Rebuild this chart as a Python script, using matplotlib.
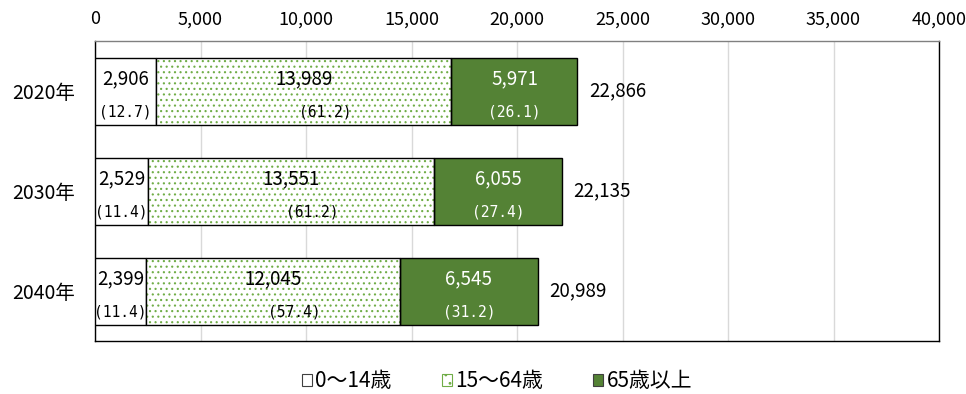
import matplotlib
matplotlib.use('Agg')
import matplotlib.pyplot as plt
from matplotlib.patches import Patch
from matplotlib.ticker import FuncFormatter, MultipleLocator

plt.rcParams['font.family'] = ['Noto Sans CJK JP', 'DejaVu Sans']
plt.rcParams['hatch.linewidth'] = 0.8

# population by age group (thousand people)
years = ['2020年', '2030年', '2040年']
age_0_14 = [2906, 2529, 2399]
age_15_64 = [13989, 13551, 12045]
age_65_over = [5971, 6055, 6545]
pct_0_14 = [12.7, 11.4, 11.4]
pct_15_64 = [61.2, 61.2, 57.4]
pct_65_over = [26.1, 27.4, 31.2]
totals = [22866, 22135, 20989]
legend_labels = ['0～14歳', '15～64歳', '65歳以上']

DOT_GREEN = '#70AD47'
DARK_GREEN = '#548235'
BAR_H = 0.67
FS = 13.5

fig = plt.figure(figsize=(9.66, 3.94), dpi=100)
ax = fig.add_axes([95 / 966, 1 - 341 / 394, 844 / 966, 300 / 394])

y = list(range(len(years)))
left_mid = age_0_14
left_old = [a + b for a, b in zip(age_0_14, age_15_64)]

ax.barh(y, age_0_14, height=BAR_H, color='white', edgecolor='black', lw=1, zorder=3)
# dotted fill, then a black outline on top
ax.barh(y, age_15_64, left=left_mid, height=BAR_H, color='white',
        edgecolor=DOT_GREEN, hatch='...', lw=0, zorder=3)
ax.barh(y, age_15_64, left=left_mid, height=BAR_H, fill=False,
        edgecolor='black', lw=1, zorder=4)
ax.barh(y, age_65_over, left=left_old, height=BAR_H, color=DARK_GREEN,
        edgecolor='black', lw=1, zorder=3)

for i in y:
    segs = [
        (0, age_0_14[i], pct_0_14[i], 'black', 0),
        (left_mid[i], age_15_64[i], pct_15_64[i], 'black', 1000),
        (left_old[i], age_65_over[i], pct_65_over[i], 'white', 0),
    ]
    for left, val, pct, col, shift in segs:
        cx = left + val / 2
        ax.text(cx, i - 0.12, f'{val:,}', ha='center', va='center',
                fontsize=FS, color=col, zorder=5)
        ax.text(cx + shift, i + 0.21, f'({pct:.1f})', ha='center', va='center',
                fontsize=10.5, family='DejaVu Sans Mono', color=col, zorder=5)
    ax.text(totals[i] + 550, i, f'{totals[i]:,}', ha='left', va='center',
            fontsize=FS, zorder=5)

ax.set_xlim(0, 40000)
ax.set_ylim(2.5, -0.5)
ax.xaxis.set_major_locator(MultipleLocator(5000))
ax.xaxis.set_major_formatter(FuncFormatter(lambda v, p: f'{int(v):,}'))
ax.xaxis.tick_top()
ax.set_yticks(y, years)
ax.tick_params(axis='x', length=0, pad=9, labelsize=13)
ax.tick_params(axis='y', length=0, pad=14, labelsize=14)
ax.grid(axis='x', color='#D9D9D9', lw=1, zorder=0)
ax.set_axisbelow(True)

for side in ['left', 'right', 'bottom']:
    ax.spines[side].set_color('black')
    ax.spines[side].set_linewidth(1)
ax.spines['top'].set_color('#808080')
ax.spines['top'].set_linewidth(1)

handles = [
    Patch(facecolor='white', edgecolor='#404040', lw=0.8),
    Patch(facecolor='white', edgecolor=DOT_GREEN, hatch='..', lw=0.8),
    Patch(facecolor=DARK_GREEN, edgecolor='#404040', lw=0.8),
]
fig.legend(handles, legend_labels, loc='center', bbox_to_anchor=(497 / 966, 1 - 381 / 394),
           ncol=3, frameon=False, fontsize=15, handlelength=0.5, handleheight=0.5,
           handletextpad=0.15, columnspacing=2.4, borderpad=0)

fig.savefig('out.png', dpi=100)
